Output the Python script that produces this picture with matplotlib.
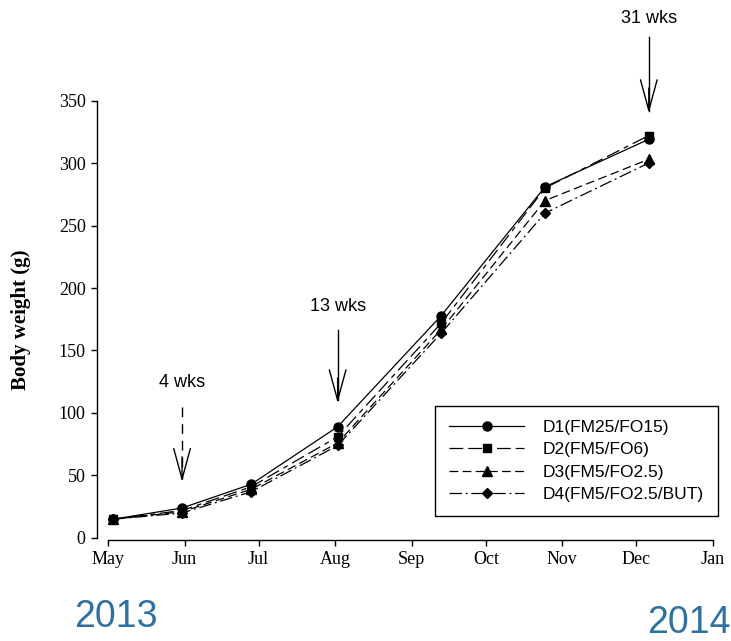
import datetime as dt

import matplotlib
matplotlib.use("Agg")
import matplotlib.pyplot as plt
import matplotlib.dates as mdates

# Sampling weeks after the start of the feeding trial
start_date = dt.date(2013, 5, 3)
weeks = [0, 4, 8, 13, 19, 25, 31]

# Mean body weight (g) per diet group
d1 = [15, 24, 43, 89, 178, 281, 319]
d2 = [15, 22, 41, 81, 172, 280, 322]
d3 = [15, 21, 39, 76, 167, 270, 303]
d4 = [15, 20, 37, 74, 164, 260, 300]

labels = ["D1(FM25/FO15)", "D2(FM5/FO6)", "D3(FM5/FO2.5)", "D4(FM5/FO2.5/BUT)"]

# Sampling-point callouts: (week, label, label y, shaft top, tip, dashed)
callouts = [
    (4, "4 wks", 124, 105, 45, True),
    (13, "13 wks", 185, 166, 108, False),
    (31, "31 wks", 416, 401, 340, False),
]

dates = [start_date + dt.timedelta(weeks=w) for w in weeks]
x = mdates.date2num(dates)

plt.rcParams["font.family"] = ["Liberation Serif", "DejaVu Serif"]

fig = plt.figure(figsize=(7.31, 6.41), dpi=100)
ax = fig.add_axes([0.1477, 0.1607, 0.8277, 0.6825])

styles = [
    dict(linestyle="-", marker="o", markersize=6.5),
    dict(linestyle=(0, (11, 4, 11, 4, 4, 4)), marker="s", markersize=6),
    dict(linestyle=(0, (7, 3.5)), marker="^", markersize=6.5),
    dict(linestyle=(0, (10, 3, 1.5, 3)), marker="D", markersize=5.5),
]
for vals, lab, st in zip([d1, d2, d3, d4], labels, styles):
    ax.plot(x, vals, color="black", linewidth=0.9, label=lab, clip_on=False, **st)

for wk, txt, ty, y0, y1, dashed in callouts:
    xc = mdates.date2num(start_date + dt.timedelta(weeks=wk))
    ax.plot([xc, xc], [y0, y1 + 2], color="black", linewidth=1.0,
            linestyle=(0, (7, 5)) if dashed else "-", clip_on=False)
    ax.annotate("", xy=(xc, y1), xytext=(xc, y1 + 20),
                arrowprops=dict(arrowstyle="->,head_length=2.2,head_width=0.6",
                                color="black", lw=1.0, shrinkA=0, shrinkB=0,
                                mutation_scale=10),
                annotation_clip=False)
    ax.text(xc, ty, txt, ha="center", va="center", fontsize=13,
            family="Liberation Sans", clip_on=False)

ax.set_xlim(mdates.date2num(dt.date(2013, 5, 1)), mdates.date2num(dt.date(2014, 1, 1)))
ax.set_ylim(0, 350)
ax.xaxis.set_major_locator(mdates.MonthLocator())
ax.xaxis.set_major_formatter(mdates.DateFormatter("%b"))
ax.set_yticks(range(0, 351, 50))

for side in ("top", "right"):
    ax.spines[side].set_visible(False)
ax.spines["left"].set_position(("outward", 8))
ax.spines["bottom"].set_position(("outward", 1.5))
for side in ("left", "bottom"):
    ax.spines[side].set_linewidth(1.0)

ax.tick_params(axis="both", direction="out", length=4, width=1.0, labelsize=13, pad=4)
ax.set_ylabel("Body weight (g)", fontsize=15, fontweight="bold")
ax.yaxis.set_label_coords(-0.128, 0.5)

leg = ax.legend(loc="lower right", bbox_to_anchor=(718 / 731, 125 / 641),
                bbox_transform=fig.transFigure, borderaxespad=0,
                prop=dict(family="Liberation Sans", size=12.5),
                handlelength=4.3, handletextpad=1.1, labelspacing=0.42,
                borderpad=0.8, fancybox=False, framealpha=1)
leg.get_frame().set_edgecolor("black")
leg.get_frame().set_linewidth(1.0)

year_color = "#2f71a0"
fig.text(116 / 731, 1 - 617 / 641, "2013", ha="center", va="center",
         fontsize=27, color=year_color, family="Liberation Sans")
fig.text(689 / 731, 0.0, "2014", ha="center", va="bottom",
         fontsize=27, color=year_color, family="Liberation Sans")

fig.savefig("out.png", dpi=100, facecolor="white")
